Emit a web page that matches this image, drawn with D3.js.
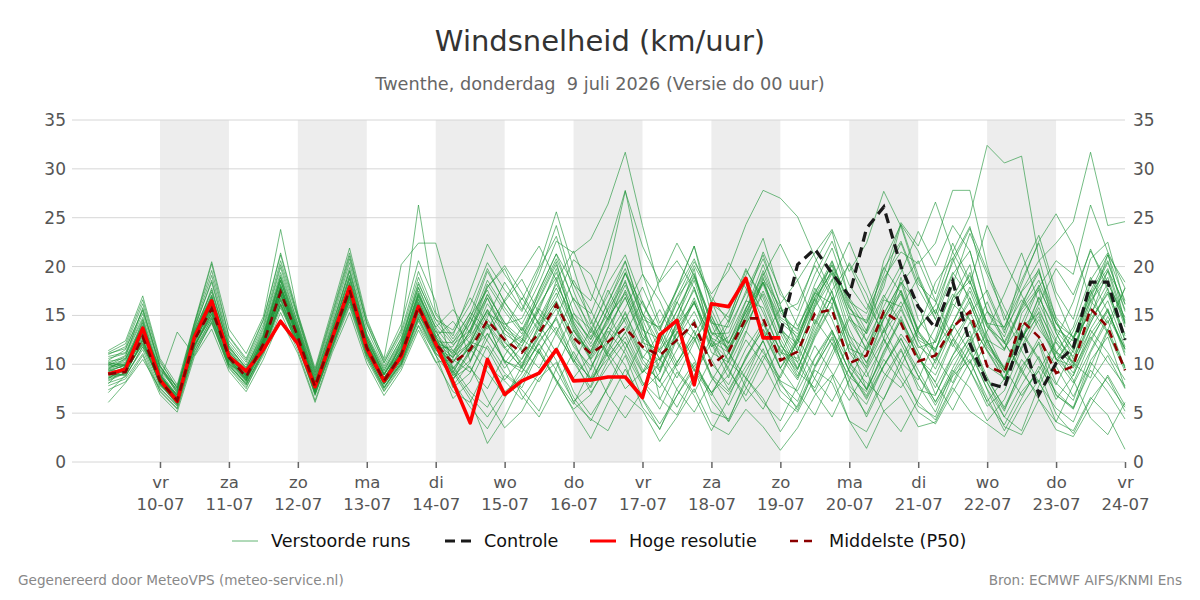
<!DOCTYPE html>
<html>
<head>
<meta charset="utf-8">
<script src="https://cdn.jsdelivr.net/npm/d3@7"></script>
<style>
  body { margin: 0; background: #fff; }
  svg { font-family: "DejaVu Sans", sans-serif; }
</style>
</head>
<body>
<div id="chart"></div>
<script>
// Forecast run starts 9 juli 06 UTC, one value every 6 hours
const startTime = Date.UTC(2026, 6, 9, 6);
const stepHours = 6;

// X axis labels (day abbreviation + date)
const tickDays = ["vr", "za", "zo", "ma", "di", "wo", "do", "vr", "za", "zo", "ma", "di", "wo", "do", "vr"];
const tickDates = ["10-07", "11-07", "12-07", "13-07", "14-07", "15-07", "16-07", "17-07", "18-07", "19-07", "20-07", "21-07", "22-07", "23-07", "24-07"];
const yTicks = [0, 5, 10, 15, 20, 25, 30, 35];

// Hoge resolutie (ends 19-07)
const hires = [9.0, 9.5, 13.7, 8.4, 6.2, 12.8, 16.5, 10.8, 9.3, 11.5, 14.4, 12.1, 7.7, 12.7, 17.9, 11.6, 8.3, 10.8, 15.9, 12.1,
  8.2, 4.0, 10.5, 6.9, 8.3, 9.1, 11.5, 8.3, 8.4, 8.7, 8.7, 6.6, 13.0, 14.5, 7.9, 16.2, 15.9, 18.8, 12.7, 12.7];

// Controle (only visible from 19-07)
const control = [null, null, null, null, null, null, null, null, null, null, null, null, null, null, null, null, null, null, null, null,
  null, null, null, null, null, null, null, null, null, null, null, null, null, null, null, null, null, null, null, 13.2,
  20.2, 21.8, 19.3, 17.0, 23.9, 26.1, 20.0, 15.9, 13.7, 18.5, 12.1, 8.1, 7.6, 13.1, 6.9, 10.1, 11.7, 18.4, 18.4, 12.5];

// Middelste (P50)
const median = [9.0, 9.2, 12.8, 8.3, 6.3, 12.5, 15.7, 10.7, 8.7, 12.1, 17.4, 12.8, 7.7, 12.7, 17.6, 11.7, 8.3, 11.0, 15.9, 12.1,
  10.1, 11.5, 14.5, 12.5, 11.2, 13.2, 16.1, 12.7, 11.1, 12.3, 13.7, 11.8, 10.9, 12.5, 14.2, 9.9, 11.3, 14.7, 14.7, 10.4,
  11.3, 15.2, 15.6, 10.1, 10.9, 15.4, 14.2, 10.3, 10.9, 13.8, 15.4, 9.8, 9.1, 14.5, 12.8, 9.1, 9.8, 15.7, 13.8, 9.4];

// Verstoorde runs (ensemble members)
const runs = [
  [10.8, 11.2, 15.2, 9.6, 7.1, 13.8, 18.4, 11.9, 9.5, 13.6, 19.9, 14.1, 8.5, 14.1, 19.5, 12.9, 9.3, 12.7, 18.4, 14.2,
   12.0, 13.5, 18.2, 15.4, 13.1, 16.8, 20.5, 14.2, 10.5, 12.9, 17.6, 13.8, 9.2, 14.5, 19.8, 12.1, 8.6, 13.2, 18.7, 15.9,
   12.4, 17.3, 16.2, 9.8, 7.5, 12.6, 18.9, 13.4, 11.2, 16.8, 20.2, 12.6, 8.4, 15.2, 17.6, 10.5, 9.8, 18.6, 21.4, 14.2],
  [7.8, 8.5, 11.1, 7.2, 5.4, 11.1, 14.2, 9.7, 7.7, 10.9, 15.3, 11.4, 6.3, 11.5, 15.9, 10.5, 7.2, 9.7, 13.9, 10.3,
   7.2, 6.1, 9.8, 8.3, 6.4, 9.1, 11.7, 7.2, 4.8, 7.6, 10.9, 6.5, 3.9, 6.8, 9.5, 5.1, 4.4, 8.2, 11.6, 7.3,
   5.6, 9.4, 8.1, 4.2, 3.1, 6.5, 9.8, 5.7, 4.6, 8.8, 10.5, 6.1, 3.8, 7.2, 9.3, 4.9, 2.9, 6.4, 8.7, 5.2],
  [9.5, 10.1, 14.2, 8.8, 6.7, 13.0, 16.8, 11.2, 9.0, 12.7, 18.5, 13.4, 8.0, 13.3, 18.8, 12.3, 8.9, 11.7, 17.3, 13.3,
   13.2, 16.1, 20.4, 17.6, 15.4, 19.2, 24.2, 18.1, 16.5, 21.8, 27.8, 19.3, 14.2, 17.6, 22.1, 15.0, 11.4, 14.3, 18.9, 13.2,
   9.6, 13.8, 17.5, 11.2, 8.7, 12.1, 15.6, 11.9, 10.4, 13.5, 16.8, 12.3, 9.7, 13.9, 15.2, 10.6, 8.8, 13.1, 15.6, 11.2],
  [6.1, 8.1, 10.5, 7.5, 5.8, 11.3, 14.7, 10.0, 7.9, 11.5, 16.1, 12.1, 7.2, 12.1, 16.4, 11.1, 7.7, 10.1, 14.8, 11.4,
   10.8, 12.2, 15.6, 13.1, 11.9, 14.7, 18.2, 14.8, 12.6, 15.1, 19.4, 14.6, 13.8, 16.9, 20.5, 17.2, 19.6, 24.3, 27.8, 27.0,
   25.1, 21.0, 17.3, 12.4, 10.2, 13.5, 16.4, 12.8, 11.6, 14.2, 17.5, 13.1, 9.4, 12.8, 14.9, 11.2, 10.3, 14.6, 17.2, 12.5],
  [11.4, 12.4, 17.0, 10.6, 7.9, 14.3, 20.5, 13.6, 11.1, 14.9, 23.8, 15.2, 9.6, 15.7, 21.9, 14.7, 10.4, 14.1, 20.6, 16.4,
   9.5, 11.8, 15.2, 14.1, 14.7, 18.3, 22.6, 21.4, 22.8, 26.4, 31.7, 24.2, 17.5, 14.2, 12.6, 8.9, 7.2, 10.5, 13.6, 10.8,
   8.4, 12.7, 15.9, 11.3, 9.8, 14.6, 17.2, 12.5, 11.4, 16.2, 14.5, 9.8, 8.6, 12.4, 16.8, 13.5, 11.2, 16.4, 18.9, 13.8],
  [10.2, 9.8, 13.5, 8.1, 6.0, 12.6, 16.3, 10.4, 8.4, 12.4, 18.2, 12.9, 7.5, 12.9, 18.1, 11.5, 8.1, 11.6, 16.7, 12.4,
   11.2, 14.6, 19.5, 16.4, 13.5, 17.2, 20.8, 16.6, 15.2, 19.8, 27.7, 22.1, 18.4, 20.6, 17.8, 13.2, 11.6, 14.9, 18.2, 13.5,
   12.1, 16.8, 19.4, 14.6, 13.2, 18.5, 22.4, 17.8, 14.6, 19.2, 21.6, 15.5, 12.8, 17.4, 19.6, 14.2, 11.5, 16.8, 20.4, 15.6],
  [8.6, 9.4, 12.1, 8.4, 6.6, 11.9, 15.2, 10.9, 8.8, 11.8, 17.2, 13.2, 7.9, 12.5, 17.1, 12.1, 8.7, 10.8, 15.6, 11.8,
   10.2, 12.4, 16.8, 13.5, 12.2, 15.5, 19.8, 14.4, 11.8, 14.2, 18.6, 13.1, 10.6, 13.8, 17.9, 12.4, 11.2, 15.7, 19.3, 14.8,
   13.6, 17.4, 20.1, 15.2, 14.5, 19.8, 22.6, 18.2, 16.4, 21.5, 25.2, 32.4, 30.6, 31.3, 20.8, 14.6, 10.5, 14.2, 17.8, 12.4],
  [9.9, 10.5, 13.8, 8.8, 6.2, 13.2, 16.7, 11.4, 9.3, 12.9, 18.9, 13.8, 8.3, 13.5, 19.1, 12.6, 9.1, 12.2, 17.1, 12.9,
   8.8, 10.4, 13.9, 11.6, 9.7, 12.8, 16.2, 12.5, 8.5, 11.3, 15.4, 10.8, 9.4, 12.6, 16.5, 11.2, 10.2, 14.1, 17.2, 12.6,
   9.5, 13.4, 16.8, 11.6, 10.8, 15.2, 18.4, 13.1, 11.5, 15.6, 19.4, 14.2, 13.8, 17.5, 20.6, 22.4, 24.6, 31.7, 24.2, 24.6],
  [8.3, 9.1, 12.4, 7.9, 5.9, 12.0, 15.1, 10.2, 8.2, 11.7, 16.8, 12.3, 7.3, 12.3, 16.8, 11.3, 7.9, 10.6, 15.2, 11.6,
   11.8, 14.9, 17.6, 13.8, 12.4, 16.1, 18.9, 13.6, 10.9, 13.8, 16.9, 12.2, 11.5, 13.6, 16.4, 11.8, 12.8, 16.5, 15.8, 11.2,
   10.6, 15.8, 18.7, 12.9, 11.4, 16.6, 15.9, 11.7, 12.3, 16.8, 18.5, 14.2, 12.1, 15.6, 17.9, 20.6, 19.2, 26.3, 21.5, 17.8],
  [9.2, 8.8, 11.8, 8.6, 6.8, 11.6, 14.6, 9.8, 8.1, 11.2, 16.2, 12.4, 6.9, 11.8, 16.4, 10.8, 7.3, 9.9, 14.4, 10.9,
   8.6, 9.8, 6.4, 3.5, 5.2, 8.6, 10.2, 6.1, 4.4, 3.2, 6.8, 5.3, 2.1, 4.6, 7.5, 3.8, 2.8, 5.4, 3.6, 1.2,
   3.5, 6.8, 8.9, 4.2, 1.4, 5.2, 6.8, 3.6, 4.1, 7.6, 5.2, 3.9, 2.6, 5.8, 8.4, 4.1, 3.2, 6.6, 4.8, 1.3],
  [10.6, 11.1, 14.8, 9.3, 7.4, 13.5, 17.4, 11.7, 9.7, 13.3, 19.4, 14.2, 8.8, 13.9, 19.9, 13.1, 9.6, 12.6, 17.8, 13.6,
   9.4, 6.8, 4.6, 7.2, 8.6, 11.5, 13.8, 10.6, 7.1, 9.8, 12.3, 8.2, 6.4, 10.1, 13.5, 8.8, 5.8, 9.3, 12.4, 7.9,
   6.2, 10.6, 13.2, 7.5, 4.9, 8.7, 11.6, 7.4, 6.8, 10.9, 13.4, 8.1, 5.2, 9.8, 12.1, 6.8, 5.6, 10.4, 12.8, 7.6],
  [11.0, 11.8, 16.2, 10.2, 7.6, 14.1, 20.3, 12.8, 10.4, 14.5, 21.2, 14.8, 9.2, 15.1, 21.1, 14.1, 10.1, 13.4, 19.5, 15.1,
   12.6, 15.2, 19.8, 16.3, 14.1, 17.5, 21.3, 16.4, 12.8, 16.2, 20.5, 15.1, 13.6, 17.8, 22.1, 16.2, 14.8, 19.1, 22.9, 17.1,
   15.5, 20.4, 23.6, 16.6, 13.4, 20.6, 24.3, 19.1, 15.1, 20.8, 24.1, 17.2, 13.2, 19.6, 23.2, 17.4, 14.6, 20.8, 22.5, 16.1],
  [7.4, 8.2, 10.9, 6.9, 5.1, 10.8, 13.6, 9.3, 7.2, 10.5, 14.6, 11.1, 6.1, 11.2, 15.3, 10.1, 6.8, 9.4, 13.5, 10.2,
   10.5, 9.2, 12.6, 16.4, 18.7, 15.2, 13.1, 10.4, 8.6, 12.9, 15.8, 19.2, 16.5, 12.4, 9.6, 7.1, 9.8, 13.4, 11.2, 8.6,
   12.5, 17.8, 14.6, 10.2, 8.1, 6.4, 10.5, 13.8, 15.6, 12.1, 9.4, 6.2, 8.5, 12.6, 16.9, 13.2, 10.1, 8.6, 13.5, 17.8],
  [9.6, 10.4, 13.9, 9.4, 7.8, 12.9, 16.2, 10.5, 8.6, 12.3, 17.8, 12.6, 7.6, 12.6, 17.5, 11.9, 8.5, 11.2, 16.3, 12.6,
   7.8, 10.2, 14.2, 11.8, 9.6, 8.2, 11.4, 15.2, 13.6, 10.8, 7.5, 9.2, 12.6, 16.4, 13.2, 10.5, 7.4, 10.6, 14.1, 11.6,
   9.2, 7.6, 11.3, 14.9, 12.4, 9.1, 7.6, 10.4, 13.8, 17.2, 14.6, 11.3, 8.4, 11.8, 15.4, 12.2, 9.6, 12.8, 10.2, 7.8],
  [8.8, 9.0, 12.6, 7.8, 6.3, 12.3, 15.8, 10.8, 8.9, 12.2, 17.6, 13.1, 7.7, 13.0, 17.9, 11.8, 8.1, 10.5, 15.8, 12.2,
   8.2, 5.6, 3.4, 6.5, 9.8, 13.2, 10.4, 6.6, 4.2, 7.8, 11.6, 8.1, 5.4, 9.2, 6.8, 3.2, 6.5, 10.8, 13.5, 9.6,
   7.1, 4.8, 8.6, 12.1, 9.3, 5.2, 3.1, 6.4, 10.5, 14.1, 11.2, 7.5, 4.6, 3.2, 7.8, 11.2, 8.4, 4.5, 2.8, 6.1],
  [10.1, 10.9, 14.6, 9.1, 6.4, 13.4, 17.6, 11.8, 9.6, 13.1, 19.1, 13.9, 8.6, 13.7, 19.6, 12.9, 9.4, 12.3, 17.9, 13.8,
   11.4, 13.1, 17.2, 14.2, 12.6, 11.1, 14.9, 18.6, 15.5, 12.1, 14.6, 17.9, 13.8, 10.2, 12.9, 16.3, 20.4, 17.8, 13.2, 9.6,
   12.2, 16.3, 19.7, 15.1, 11.4, 14.6, 18.2, 20.6, 16.5, 12.8, 10.1, 13.4, 17.2, 21.4, 16.3, 12.5, 10.8, 14.9, 19.6, 16.2],
  [9.4, 9.3, 12.9, 8.3, 13.3, 10.9, 14.4, 9.6, 7.5, 11.3, 16.2, 11.8, 7.0, 11.9, 16.6, 11.4, 8.0, 10.3, 14.7, 11.2,
   9.1, 12.3, 11.6, 8.4, 10.6, 13.9, 16.4, 12.1, 9.4, 13.8, 12.2, 9.1, 11.6, 15.5, 19.1, 14.1, 10.2, 8.6, 12.5, 15.8,
   11.8, 8.5, 6.2, 9.6, 13.5, 17.1, 14.2, 10.8, 7.6, 10.9, 14.3, 11.4, 9.2, 13.4, 10.6, 7.9, 11.5, 15.8, 13.2, 9.3],
  [10.4, 11.5, 15.6, 9.9, 7.2, 13.9, 19.1, 12.4, 10.2, 14.1, 20.6, 14.9, 9.1, 14.8, 20.8, 14.2, 10.2, 13.6, 26.3, 15.3,
   12.9, 17.5, 22.3, 19.2, 16.6, 20.1, 25.6, 19.8, 14.1, 18.3, 21.2, 16.4, 12.4, 16.8, 19.3, 14.5, 11.1, 15.6, 20.2, 15.3,
   13.4, 18.2, 21.9, 16.8, 14.2, 17.9, 24.3, 21.6, 17.2, 22.4, 18.5, 13.9, 11.5, 16.2, 19.4, 14.8, 12.7, 17.5, 21.2, 16.5],
  [9.1, 9.6, 13.1, 8.5, 6.5, 12.7, 15.9, 10.9, 8.8, 12.3, 17.7, 13.0, 7.8, 12.9, 17.8, 11.9, 8.4, 11.2, 16.1, 12.3,
   10.7, 13.4, 16.8, 12.9, 9.8, 14.2, 17.3, 13.4, 11.2, 14.5, 18.1, 13.9, 9.6, 13.1, 16.8, 12.3, 10.5, 14.6, 18.4, 13.8,
   11.4, 15.9, 19.3, 13.6, 10.1, 14.8, 17.5, 12.4, 9.5, 13.6, 16.4, 11.5, 8.4, 12.5, 15.8, 11.4, 9.1, 13.6, 16.5, 11.8],
  [8.1, 8.7, 11.8, 7.6, 5.7, 11.9, 14.9, 10.1, 8.0, 11.4, 16.5, 12.1, 7.1, 12.2, 16.7, 11.0, 7.6, 10.4, 15.1, 11.5,
   9.8, 7.2, 5.6, 8.9, 7.4, 5.2, 9.6, 13.5, 10.4, 6.8, 4.5, 7.3, 9.1, 13.4, 10.6, 6.3, 4.1, 7.5, 10.9, 8.2,
   5.3, 9.6, 12.8, 9.4, 6.8, 10.5, 8.3, 5.1, 3.9, 7.1, 10.3, 6.6, 3.2, 6.5, 9.8, 7.2, 5.5, 9.4, 7.2, 4.4],
  [11.2, 12.1, 16.6, 10.4, 7.5, 14.2, 19.6, 12.9, 10.6, 14.6, 21.4, 15.1, 9.4, 15.3, 21.4, 14.4, 10.6, 20.2, 22.4, 22.4,
   16.2, 10.3, 14.8, 18.4, 15.6, 19.8, 23.1, 17.5, 13.2, 17.6, 14.3, 10.5, 8.2, 12.6, 15.4, 11.8, 14.5, 19.6, 16.8, 12.1,
   9.4, 14.2, 18.6, 22.5, 18.2, 13.6, 10.2, 8.4, 12.6, 18.1, 23.4, 19.2, 15.1, 11.4, 8.2, 12.6, 16.4, 21.8, 17.6, 12.9],
  [9.3, 9.9, 13.4, 8.6, 6.9, 12.5, 15.6, 10.6, 8.5, 12.0, 17.3, 12.7, 7.6, 12.6, 17.4, 11.6, 8.2, 11.1, 15.7, 12.0,
   8.4, 11.6, 9.2, 6.8, 9.1, 12.4, 14.6, 10.2, 7.6, 11.2, 13.9, 10.1, 8.3, 5.6, 8.9, 12.2, 9.6, 6.2, 8.4, 11.9,
   10.2, 14.6, 12.1, 7.8, 5.9, 9.8, 12.6, 9.4, 6.1, 9.6, 12.9, 8.7, 5.4, 8.9, 12.3, 8.1, 6.3, 11.2, 14.5, 9.6],
  [8.9, 9.4, 12.7, 8.1, 6.2, 12.4, 15.5, 10.6, 8.6, 12.0, 17.1, 12.6, 7.5, 12.6, 17.3, 11.5, 8.4, 10.9, 15.5, 11.9,
   9.2, 6.4, 1.9, 4.6, 8.2, 11.6, 8.4, 5.2, 2.4, 6.1, 9.5, 6.4, 3.3, 7.5, 10.2, 7.1, 4.2, 8.6, 6.5, 3.1,
   5.8, 9.8, 12.6, 8.4, 4.6, 8.2, 11.4, 7.9, 5.1, 9.4, 7.6, 4.2, 6.4, 10.5, 8.1, 5.5, 4.1, 8.2, 10.9, 7.5],
  [10.3, 10.6, 14.3, 9.0, 6.6, 13.1, 16.9, 11.3, 9.2, 12.9, 18.6, 13.6, 8.2, 13.4, 18.7, 12.5, 8.9, 11.9, 17.2, 13.3,
   10.9, 14.8, 12.4, 9.6, 11.8, 15.8, 19.4, 14.7, 12.5, 16.4, 19.8, 14.6, 10.4, 14.3, 17.6, 13.1, 13.2, 17.5, 21.2, 16.1,
   11.3, 16.1, 20.5, 15.8, 13.1, 16.8, 20.1, 14.6, 12.2, 16.4, 19.1, 14.1, 11.6, 14.2, 18.1, 13.6, 12.4, 17.1, 19.8, 14.5],
  [9.8, 10.2, 13.6, 8.9, 6.9, 12.8, 16.4, 11.1, 8.9, 12.6, 18.1, 13.3, 8.0, 13.1, 18.3, 12.2, 8.6, 11.5, 16.6, 12.7,
   11.1, 12.9, 15.4, 12.2, 10.5, 13.6, 16.5, 12.9, 11.4, 14.8, 17.2, 13.5, 12.6, 15.4, 18.9, 14.2, 13.8, 17.2, 20.8, 16.2,
   18.6, 21.4, 23.8, 19.5, 22.4, 27.7, 24.1, 18.6, 15.2, 19.4, 16.8, 12.5, 11.4, 15.8, 18.6, 14.2, 12.8, 16.5, 19.5, 14.1],
  [9.0, 9.7, 13.2, 8.4, 6.1, 12.6, 15.9, 10.8, 8.7, 12.3, 17.6, 13.0, 7.8, 12.8, 17.8, 11.8, 8.4, 11.2, 16.2, 12.2,
   10.3, 12.1, 16.2, 13.6, 11.3, 14.5, 17.8, 13.9, 10.6, 13.7, 16.8, 12.7, 11.2, 14.8, 18.6, 13.3, 12.2, 15.8, 18.4, 14.3,
   12.8, 16.6, 19.6, 15.7, 14.2, 18.8, 21.5, 20.3, 22.4, 27.8, 27.8, 20.1, 14.5, 18.6, 22.4, 16.8, 12.6, 17.2, 20.6, 15.4],
  [7.1, 8.9, 11.5, 7.3, 5.5, 11.4, 14.3, 9.9, 7.9, 11.1, 15.8, 11.9, 6.8, 11.8, 16.1, 10.7, 7.5, 10.2, 14.6, 11.1,
   9.6, 11.8, 14.6, 12.4, 10.1, 12.9, 15.7, 11.8, 9.8, 12.3, 15.2, 11.6, 10.4, 13.2, 16.3, 12.7, 11.7, 15.3, 18.4, 14.6,
   13.1, 16.9, 20.2, 16.4, 15.2, 19.2, 24.5, 22.1, 26.6, 21.5, 18.2, 24.2, 20.5, 17.1, 13.6, 11.2, 13.8, 18.9, 15.4, 11.6],
  [9.7, 10.0, 13.4, 8.6, 6.5, 12.7, 16.1, 10.9, 8.8, 12.4, 17.9, 13.2, 7.9, 13.0, 18.1, 12.0, 8.6, 11.4, 16.4, 12.5,
   8.9, 11.3, 13.1, 10.4, 9.2, 12.2, 14.8, 10.9, 8.4, 10.6, 13.3, 9.5, 7.6, 10.2, 12.8, 8.6, 6.9, 9.8, 12.4, 8.3,
   7.3, 10.7, 13.5, 9.2, 6.6, 9.9, 12.7, 8.8, 5.8, 8.9, 11.6, 7.4, 3.6, 2.8, 6.4, 3.3, 2.6, 5.7, 8.9, 5.8],
  [11.1, 11.6, 15.5, 9.8, 7.3, 13.6, 18.6, 12.1, 9.9, 13.8, 20.2, 14.6, 8.9, 14.4, 20.4, 13.6, 9.8, 13.1, 18.9, 14.6,
   12.3, 14.1, 18.6, 15.8, 13.4, 16.6, 20.2, 15.3, 12.1, 15.6, 18.4, 14.2, 6.5, 4.8, 8.6, 12.9, 15.4, 19.8, 16.3, 12.2,
   8.8, 13.1, 16.9, 12.3, 7.4, 11.2, 14.9, 10.6, 8.9, 12.6, 9.4, 5.7, 7.3, 11.6, 14.6, 10.5, 8.1, 12.3, 15.7, 10.9],
  [8.4, 9.2, 12.2, 8.0, 6.0, 12.1, 15.4, 10.4, 8.3, 11.9, 17.0, 12.5, 7.4, 12.4, 17.2, 11.4, 8.0, 10.7, 15.4, 11.7,
   10.1, 13.6, 17.1, 14.3, 11.5, 9.6, 13.2, 16.8, 13.8, 11.2, 8.6, 12.4, 15.6, 12.2, 9.4, 6.8, 10.4, 14.1, 17.5, 13.6,
   10.9, 7.2, 10.8, 14.6, 11.6, 15.1, 18.4, 16.2, 10.8, 8.1, 11.9, 15.4, 12.3, 9.2, 6.8, 10.1, 13.4, 17.6, 13.2, 9.8],
  [9.5, 10.6, 14.0, 9.2, 6.8, 12.2, 16.0, 11.0, 8.4, 12.8, 18.6, 13.1, 7.4, 13.1, 18.2, 12.4, 8.1, 12.4, 18.2, 14.6,
   13.5, 16.8, 14.2, 10.1, 12.4, 17.6, 21.3, 18.2, 14.6, 10.8, 13.2, 16.5, 12.8, 9.4, 7.1, 10.6, 14.2, 18.6, 15.3, 11.4,
   8.6, 12.9, 16.1, 20.4, 17.2, 12.6, 9.8, 13.5, 18.4, 20.9, 16.2, 12.1, 9.5, 13.6, 17.8, 14.2, 11.6, 15.8, 21.2, 18.4],
  [8.0, 9.9, 13.0, 8.9, 6.4, 12.0, 14.8, 10.0, 9.0, 11.4, 16.6, 12.2, 7.0, 11.6, 16.9, 11.0, 7.6, 10.0, 14.9, 12.8,
   14.4, 12.1, 10.5, 13.6, 16.8, 14.1, 11.2, 8.6, 10.9, 14.8, 17.4, 12.6, 8.3, 11.5, 14.6, 10.1, 7.9, 11.6, 14.3, 9.6,
   12.8, 16.7, 13.4, 9.3, 6.4, 9.8, 13.1, 10.6, 8.2, 12.5, 15.3, 11.8, 9.6, 6.8, 9.4, 12.3, 10.1, 13.5, 11.2, 8.4],
  [10.0, 9.5, 13.2, 9.8, 7.6, 13.2, 17.0, 11.4, 9.2, 12.6, 18.0, 12.9, 8.1, 12.4, 17.0, 12.6, 9.0, 11.4, 17.0, 13.8,
   15.6, 13.2, 17.9, 19.8, 16.1, 13.4, 18.6, 21.6, 17.2, 14.5, 19.3, 16.1, 13.4, 17.6, 20.8, 16.5, 12.2, 15.3, 19.1, 22.3,
   18.6, 14.1, 17.6, 20.2, 16.3, 13.2, 15.8, 18.9, 14.6, 11.8, 15.2, 17.6, 13.5, 16.6, 14.1, 10.5, 12.7, 15.1, 18.3, 14.8],
  [8.5, 9.8, 12.5, 8.2, 6.0, 11.8, 15.5, 10.3, 8.3, 12.0, 16.0, 12.0, 7.2, 12.4, 17.0, 11.2, 8.0, 10.0, 14.0, 11.0,
   6.5, 8.2, 11.9, 9.1, 7.6, 11.3, 8.2, 5.4, 6.9, 10.4, 12.8, 9.2, 10.6, 7.4, 5.1, 8.3, 11.2, 8.6, 6.1, 4.2,
   7.8, 11.9, 9.1, 6.3, 9.4, 12.6, 8.8, 6.1, 4.3, 7.9, 11.2, 8.5, 5.6, 9.4, 12.7, 9.8, 6.7, 10.2, 8.1, 5.6],
  [9.9, 10.8, 15.8, 9.8, 7.0, 12.9, 17.8, 11.6, 9.4, 13.0, 18.9, 13.5, 8.2, 13.5, 19.0, 12.8, 9.0, 12.0, 17.5, 13.0,
   10.6, 14.2, 17.9, 20.1, 17.3, 14.1, 16.8, 20.7, 19.2, 15.3, 11.6, 14.8, 18.6, 22.4, 19.1, 14.5, 12.1, 16.4, 21.5, 17.6,
   13.9, 17.2, 20.6, 16.1, 12.4, 15.9, 19.4, 23.6, 20.1, 24.2, 21.6, 15.4, 13.8, 18.2, 22.6, 25.4, 22.1, 16.5, 14.2, 17.8],
  [8.7, 9.3, 12.0, 8.0, 6.2, 12.6, 16.0, 10.6, 8.6, 12.2, 17.3, 12.8, 7.8, 12.8, 17.5, 11.7, 8.3, 11.3, 16.0, 12.2,
   11.4, 9.6, 7.5, 10.9, 13.8, 11.2, 8.4, 5.9, 9.6, 13.4, 11.1, 7.8, 10.2, 14.1, 16.2, 12.7, 9.3, 6.8, 10.4, 13.6,
   10.2, 7.1, 4.6, 8.4, 11.9, 15.2, 12.1, 8.8, 6.2, 9.1, 12.4, 16.4, 12.2, 9.5, 6.4, 4.1, 7.9, 11.4, 14.9, 11.6],
  [10.1, 9.9, 14.5, 8.5, 6.6, 13.3, 17.1, 11.0, 9.0, 12.5, 17.9, 13.6, 8.1, 12.8, 18.4, 12.1, 8.9, 11.8, 16.9, 12.8,
   9.2, 12.1, 15.6, 11.7, 12.9, 15.7, 13.4, 10.2, 13.6, 17.1, 20.6, 15.2, 11.4, 8.6, 12.3, 15.6, 11.8, 14.9, 19.6, 15.4,
   16.2, 20.1, 16.8, 12.9, 9.6, 13.4, 17.6, 13.4, 10.1, 14.2, 17.9, 13.8, 12.3, 15.9, 19.8, 13.2, 9.8, 14.3, 17.4, 13.1],
  [9.2, 10.0, 13.6, 8.7, 6.4, 12.8, 16.2, 11.1, 8.7, 12.5, 17.6, 12.9, 7.9, 12.9, 17.6, 12.0, 8.5, 11.2, 16.0, 12.4,
   7.6, 9.1, 13.2, 10.3, 6.8, 4.6, 7.9, 11.3, 8.2, 11.6, 14.8, 10.6, 13.2, 9.8, 12.5, 14.9, 11.3, 7.6, 5.4, 8.9,
   12.6, 9.8, 13.4, 10.2, 7.4, 10.9, 14.6, 11.3, 6.9, 10.4, 12.6, 8.2, 4.6, 7.9, 10.8, 6.9, 5.4, 9.8, 13.6, 9.6],
  [9.4, 9.9, 13.4, 8.8, 6.8, 12.4, 15.8, 10.7, 8.8, 12.1, 17.2, 12.7, 7.6, 12.7, 17.6, 11.8, 8.4, 11.1, 16.1, 12.3,
   12.2, 15.3, 13.6, 16.6, 19.4, 22.1, 18.6, 14.1, 11.3, 15.8, 19.3, 15.2, 12.1, 16.3, 20.1, 16.9, 14.3, 18.6, 14.4, 10.9,
   14.8, 19.2, 22.6, 18.1, 15.6, 19.9, 17.3, 13.6, 16.1, 20.4, 23.9, 19.6, 15.8, 12.4, 16.2, 19.8, 17.1, 21.6, 18.4, 14.3],
  [8.6, 9.0, 12.4, 8.0, 5.9, 11.7, 15.2, 10.5, 8.4, 11.6, 16.7, 12.3, 7.4, 12.3, 16.9, 11.2, 8.0, 10.6, 15.5, 11.6,
   8.4, 11.2, 14.1, 10.3, 9.6, 12.1, 9.4, 6.2, 7.8, 12.2, 9.9, 5.6, 3.4, 6.8, 9.9, 7.1, 8.9, 12.5, 10.1, 6.6,
   5.1, 8.6, 12.2, 8.7, 7.2, 11.4, 14.5, 10.8, 8.1, 5.3, 8.9, 12.5, 9.1, 13.2, 10.4, 6.4, 8.9, 12.6, 15.4, 11.5]
];

const width = 1200, height = 600;
const plot = { left: 72, right: 1125, top: 120, bottom: 462 };

const svg = d3.select("#chart").append("svg")
  .attr("width", width)
  .attr("height", height);

const timeAt = i => new Date(startTime + i * stepHours * 3600 * 1000);
const dayStart = d => new Date(Date.UTC(2026, 6, 10 + d));

// x domain: left edge lies a bit before the first value, right edge at 24-07
const x = d3.scaleUtc()
  .domain([new Date(Date.UTC(2026, 6, 8, 17, 22)), dayStart(14)])
  .range([plot.left, plot.right]);

const y = d3.scaleLinear()
  .domain([0, 35])
  .range([plot.bottom, plot.top]);

// Grey bands for every other day
for (let d = 0; d < 14; d += 2) {
  svg.append("rect")
    .attr("x", x(dayStart(d)))
    .attr("y", plot.top)
    .attr("width", x(dayStart(d + 1)) - x(dayStart(d)))
    .attr("height", plot.bottom - plot.top)
    .attr("fill", "#ededed");
}

// Horizontal gridlines
svg.append("g")
  .selectAll("line")
  .data(yTicks)
  .enter().append("line")
  .attr("x1", plot.left)
  .attr("x2", plot.right)
  .attr("y1", d => y(d))
  .attr("y2", d => y(d))
  .attr("stroke", "#d6d6d6")
  .attr("stroke-width", 1);

// Y axes (left and right)
const yAxisLeft = svg.append("g")
  .attr("transform", `translate(${plot.left},0)`)
  .call(d3.axisLeft(y).tickValues(yTicks).tickSize(0).tickPadding(6));
const yAxisRight = svg.append("g")
  .attr("transform", `translate(${plot.right},0)`)
  .call(d3.axisRight(y).tickValues(yTicks).tickSize(0).tickPadding(8));
[yAxisLeft, yAxisRight].forEach(g => {
  g.select(".domain").remove();
  g.selectAll("text")
    .style("font-size", "17px")
    .style("font-family", "DejaVu Sans")
    .attr("fill", "#555");
});

// X axis with two line labels
const xTickValues = tickDates.map((t, i) => dayStart(i));
const xAxis = svg.append("g")
  .attr("transform", `translate(0,${plot.bottom})`)
  .call(d3.axisBottom(x).tickValues(xTickValues).tickSize(6).tickFormat(""));
xAxis.select(".domain").remove();
xAxis.selectAll(".tick line").attr("stroke", "#666").attr("stroke-width", 1.5);
xAxis.selectAll(".tick").each(function (d, i) {
  const t = d3.select(this).append("text")
    .attr("fill", "#555")
    .style("font-size", "16.5px")
    .style("font-family", "DejaVu Sans")
    .attr("text-anchor", "middle");
  t.append("tspan").attr("x", 0).attr("y", 26).text(tickDays[i]);
  t.append("tspan").attr("x", 0).attr("y", 48).text(tickDates[i]);
});

// Line generator, skipping missing values
const line = d3.line()
  .defined(d => d != null)
  .x((d, i) => x(timeAt(i)))
  .y(d => y(d));

// Ensemble members
svg.append("g")
  .selectAll("path")
  .data(runs)
  .enter().append("path")
  .attr("d", line)
  .attr("fill", "none")
  .attr("stroke", "#1f9438")
  .attr("stroke-opacity", 0.62)
  .attr("stroke-width", 1);

// Hoge resolutie
svg.append("path")
  .attr("d", line(hires))
  .attr("fill", "none")
  .attr("stroke", "#ff0000")
  .attr("stroke-width", 3.6)
  .attr("stroke-linejoin", "round");

// Controle
svg.append("path")
  .attr("d", line(control))
  .attr("fill", "none")
  .attr("stroke", "#1a1a1a")
  .attr("stroke-width", 3.2)
  .attr("stroke-dasharray", "10,6");

// Middelste (P50)
svg.append("path")
  .attr("d", line(median))
  .attr("fill", "none")
  .attr("stroke", "#8b0000")
  .attr("stroke-width", 2.6)
  .attr("stroke-dasharray", "8,6");

// Titles
svg.append("text")
  .attr("x", width / 2)
  .attr("y", 51)
  .attr("text-anchor", "middle")
  .attr("fill", "#333")
  .style("font-size", "29px")
  .text("Windsnelheid (km/uur)");

svg.append("text")
  .attr("x", width / 2)
  .attr("y", 90)
  .attr("text-anchor", "middle")
  .attr("fill", "#666")
  .style("font-size", "17.7px")
  .text("Twenthe, donderdag\u00a0 9 juli 2026 (Versie do 00 uur)");

// Legend
const legendItems = [
  { label: "Verstoorde runs", x: 232, color: "#1f9438", width: 1, dash: null, opacity: 0.7 },
  { label: "Controle", x: 445, color: "#1a1a1a", width: 3, dash: "10,6", opacity: 1 },
  { label: "Hoge resolutie", x: 590, color: "#ff0000", width: 3, dash: null, opacity: 1 },
  { label: "Middelste (P50)", x: 790, color: "#8b0000", width: 2.5, dash: "8,6", opacity: 1 }
];
const legend = svg.append("g");
legendItems.forEach(item => {
  legend.append("line")
    .attr("x1", item.x)
    .attr("x2", item.x + 26)
    .attr("y1", 541)
    .attr("y2", 541)
    .attr("stroke", item.color)
    .attr("stroke-width", item.width)
    .attr("stroke-opacity", item.opacity)
    .attr("stroke-dasharray", item.dash);
  legend.append("text")
    .attr("x", item.x + 39)
    .attr("y", 547)
    .attr("fill", "#111")
    .style("font-size", "17.6px")
    .text(item.label);
});

// Footer
svg.append("text")
  .attr("x", 18)
  .attr("y", 585)
  .attr("fill", "#888")
  .style("font-size", "13.6px")
  .text("Gegenereerd door MeteoVPS (meteo-service.nl)");
svg.append("text")
  .attr("x", 1182)
  .attr("y", 585)
  .attr("text-anchor", "end")
  .attr("fill", "#888")
  .style("font-size", "13.6px")
  .text("Bron: ECMWF AIFS/KNMI Ens");
</script>
</body>
</html>
